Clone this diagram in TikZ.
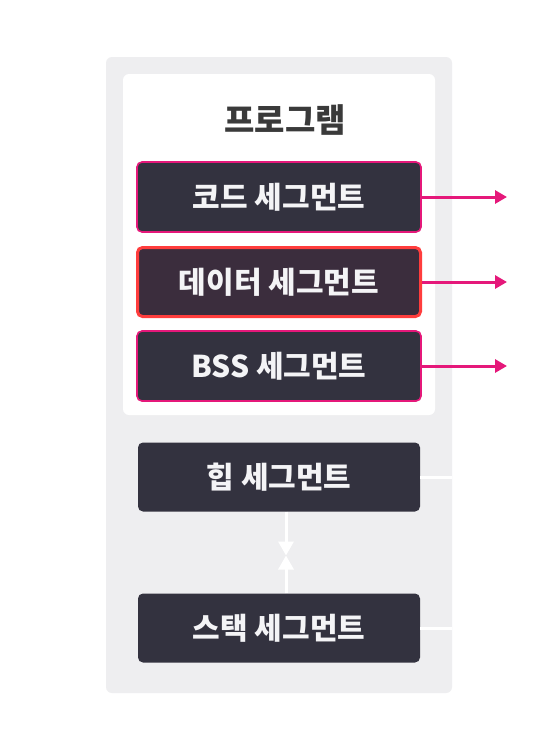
\documentclass[tikz,border=0pt]{standalone}
\usepackage{fontspec}
\newfontfamily\kr{Noto Sans CJK KR}
\usetikzlibrary{arrows.meta}
\definecolor{panelgray}{HTML}{EEEEF0}
\definecolor{boxfill}{HTML}{33323F}
\definecolor{datafill}{HTML}{3B2D3D}
\definecolor{pinkline}{HTML}{E5187A}
\definecolor{redline}{HTML}{FF3D3D}
\definecolor{titlegray}{HTML}{3A3A3A}
\definecolor{boxtext}{HTML}{F4F4F6}
\tikzset{
  x=1pt, y=-1pt,
  segbox/.style={rounded corners=5pt, fill=boxfill, text=boxtext, font=\kr\bfseries\fontsize{30}{34}\selectfont, inner sep=0pt, minimum width=284pt, minimum height=70pt},
  pinkbox/.style={segbox, draw=pinkline, line width=1.6pt},
  plainbox/.style={segbox, draw=none},
  pinkarrow/.style={draw=pinkline, line width=3pt, -{Triangle[length=12pt,width=13pt]}},
  whiteline/.style={draw=white, line width=3pt},
  whitearrow/.style={whiteline, -{Triangle[length=14pt,width=15pt]}},
}
\begin{document}
\begin{tikzpicture}
\useasboundingbox (0,0) rectangle (552,750);
\fill[white] (0,0) rectangle (552,750);
% outer panel
\node[fill=panelgray, rounded corners=6pt, minimum width=346pt, minimum height=636pt, inner sep=0pt] (panel) at (279,375) {};
% inner white panel
\node[fill=white, rounded corners=6pt, minimum width=312pt, minimum height=341pt, inner sep=0pt] (prog) at (279,244.5) {};
\node[text=titlegray, font=\kr\bfseries\fontsize{33}{37}\selectfont] (title) at (285,120) {프로그램};
% segments
\node[pinkbox] (code) at (279,197) {코드 세그먼트};
\node[segbox, fill=datafill, draw=redline, line width=3pt, minimum width=283pt, minimum height=69pt] (data) at (279,282) {데이터 세그먼트};
\node[pinkbox] (bss) at (279,366) {BSS 세그먼트};
\node[plainbox, minimum width=282pt, minimum height=69pt] (heap) at (279,477) {힙 세그먼트};
\node[plainbox, minimum width=282pt, minimum height=69pt] (stack) at (279,628) {스택 세그먼트};
% pink arrows
\coordinate (c1) at (507,197);
\coordinate (c2) at (507,282);
\coordinate (c3) at (507,366);
\draw[pinkarrow] (code.east) -- (c1);
\draw[pinkarrow] (data.east) -- (c2);
\draw[pinkarrow] (bss.east) -- (c3);
% white lines to panel edge
\draw[whiteline] (heap.east) -- (heap.east -| panel.east);
\draw[whiteline] (stack.east) -- (stack.east -| panel.east);
% heap/stack arrows
\coordinate (mid) at (286,555.5);
\draw[whitearrow] (mid |- heap.south) -- (mid);
\draw[whitearrow] (mid |- stack.north) -- (mid);
\end{tikzpicture}
\end{document}
